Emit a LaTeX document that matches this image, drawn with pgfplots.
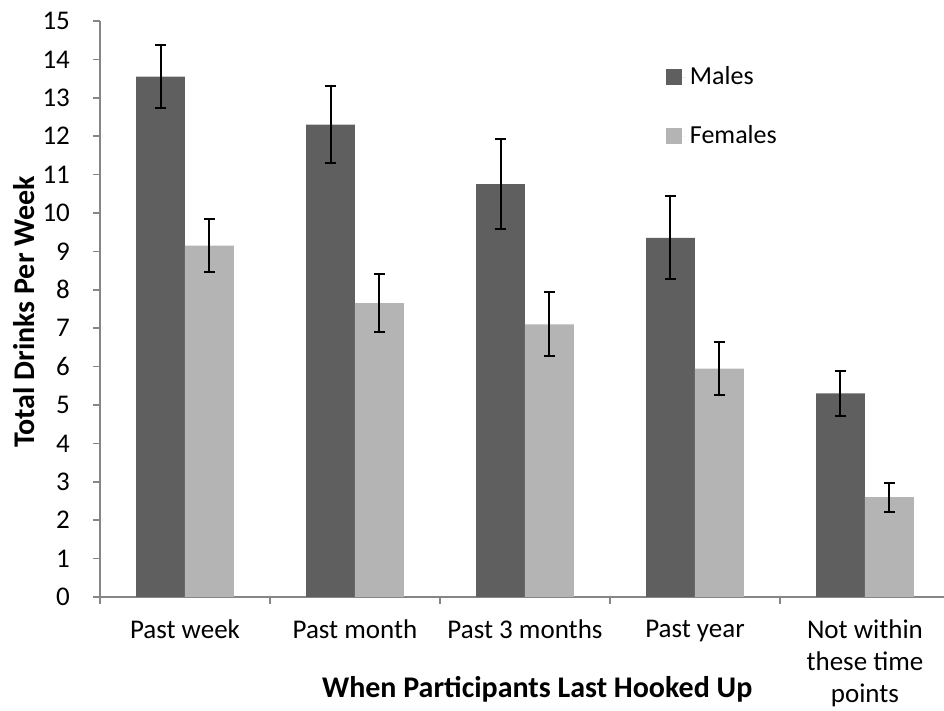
\documentclass[border=0pt]{standalone}
\usepackage{pgfplots}
\pgfplotsset{compat=1.18}
\usepackage{fontspec}
\setmainfont{Carlito}
\definecolor{axisgray}{HTML}{868686}
\definecolor{malegray}{HTML}{5F5F5F}
\definecolor{femgray}{HTML}{B4B4B4}

\begin{document}
\begin{tikzpicture}
\begin{axis}[
    at={(0,0)}, anchor=south west,
    scale only axis,
    width=422pt, height=288pt,
    ybar=0pt, bar width=0.288,
    xmin=-0.5, xmax=4.465,
    ymin=0, ymax=15,
    ytick={0,1,...,15},
    xtick={-0.5,0.5,1.5,2.5,3.5},
    xticklabels={},
    extra x ticks={0,1,2,3,4},
    extra x tick labels={Past week,Past month,Past 3 months,Past year,{Not within\\these time\\points}},
    extra x tick style={major tick length=0pt},
    axis x line*=bottom, axis y line*=left,
    axis line style={draw=axisgray, line width=0.8pt, -},
    tick style={draw=axisgray, line width=0.8pt},
    tick align=outside,
    major tick length=3.5pt,
    tick label style={font=\fontsize{13.5}{16}\selectfont, black},
    xticklabel style={align=center, yshift=-8pt},
    yticklabel style={xshift=-8pt},
    /pgf/number format/assume math mode=true,
    xlabel={\textbf{When Participants Last Hooked Up}},
    ylabel={\textbf{Total Drinks Per Week}},
    label style={font=\fontsize{15}{18}\selectfont},
    xlabel style={at={(axis description cs:0.518,-0.161)}, anchor=center},
    ylabel style={at={(axis description cs:-0.090,0.495)}, anchor=center, rotate=0},
    legend style={draw=none, fill=none, at={(0.663,0.935)}, anchor=north west,
        font=\fontsize{13}{16}\selectfont, row sep=15pt, cells={anchor=west}},
    legend image code/.code={\fill[#1] (0pt,-4pt) rectangle (8pt,4pt); \path (0pt,0pt) -- (10pt,0pt);},
    error bars/y dir=both, error bars/y explicit,
    error bars/error bar style={black, line width=1pt},
    error bars/error mark options={rotate=90, black, mark size=2.8pt, line width=1pt},
]
\addplot[fill=malegray, draw=none] coordinates {
    (0,13.55) +- (0,0.82)
    (1,12.30) +- (0,1.00)
    (2,10.75) +- (0,1.17)
    (3,9.35)  +- (0,1.08)
    (4,5.30)  +- (0,0.58)
};
\addlegendentry{Males}
\addplot[fill=femgray, draw=none] coordinates {
    (0,9.15) +- (0,0.69)
    (1,7.65) +- (0,0.76)
    (2,7.10) +- (0,0.83)
    (3,5.95) +- (0,0.70)
    (4,2.60) +- (0,0.38)
};
\addlegendentry{Females}
\end{axis}
\pgfresetboundingbox
\path[use as bounding box] (-50pt,-57pt) rectangle (422pt,298.5pt);
\end{tikzpicture}
\end{document}
